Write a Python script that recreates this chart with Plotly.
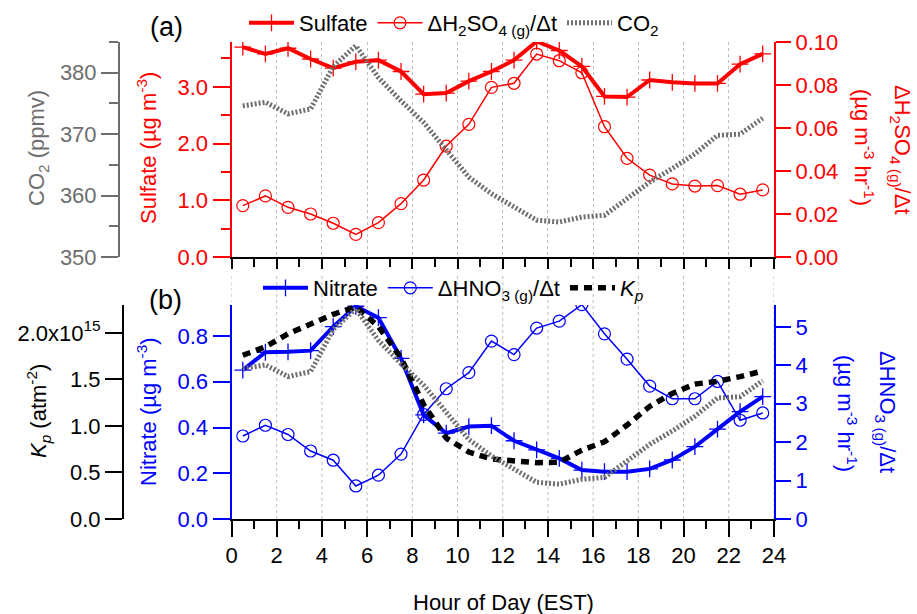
import plotly.graph_objects as go

# ---------------- data ----------------
hours = [0.5, 1.5, 2.5, 3.5, 4.5, 5.5, 6.5, 7.5, 8.5, 9.5, 10.5, 11.5,
         12.5, 13.5, 14.5, 15.5, 16.5, 17.5, 18.5, 19.5, 20.5, 21.5, 22.5, 23.5]

sulfate = [3.70, 3.58, 3.68, 3.49, 3.33, 3.44, 3.47, 3.27, 2.87, 2.89, 3.10, 3.27,
           3.47, 3.80, 3.64, 3.36, 2.83, 2.82, 3.12, 3.08, 3.06, 3.06, 3.40, 3.58]

dh2so4 = [0.0239, 0.0284, 0.0231, 0.0200, 0.0157, 0.0105, 0.0160, 0.0248, 0.0358, 0.0516, 0.0617, 0.0789,
          0.0808, 0.0944, 0.0913, 0.0857, 0.0606, 0.0459, 0.0381, 0.0340, 0.0330, 0.0332, 0.0292, 0.0312]

co2 = [374.6, 375.2, 373.3, 374.1, 381.0, 384.4, 379.2, 375.4, 371.9, 367.6, 363.0, 360.3,
       358.2, 356.0, 355.7, 356.5, 356.8, 359.5, 362.2, 364.4, 366.8, 369.8, 370.0, 372.6]

nitrate = [0.651, 0.729, 0.731, 0.736, 0.841, 0.930, 0.880, 0.702, 0.455, 0.375, 0.404, 0.408,
           0.342, 0.302, 0.265, 0.214, 0.207, 0.207, 0.219, 0.258, 0.316, 0.393, 0.469, 0.535]

dhno3 = [2.16, 2.44, 2.20, 1.77, 1.53, 0.86, 1.14, 1.69, 2.72, 3.39, 3.81, 4.63,
         4.28, 4.97, 5.15, 5.58, 4.82, 4.16, 3.46, 3.13, 3.13, 3.58, 2.57, 2.76]

kp_e15 = [1.76, 1.85, 1.99, 2.10, 2.20, 2.28, 2.07, 1.73, 1.23, 0.87, 0.72, 0.645,
          0.62, 0.605, 0.61, 0.74, 0.83, 1.01, 1.21, 1.35, 1.45, 1.48, 1.53, 1.59]

kp_tickvals = [0.0, 0.5, 1.0, 1.5, 2.0]
kp_ticktext = ["0.0", "0.5", "1.0", "1.5", "2.0x10<sup>15</sup>"]
grid_hours = [0, 2, 4, 6, 8, 10, 12, 14, 16, 18, 20, 22, 24]

# ---------------- layout helpers ----------------
W, H = 917, 614
def px(x):
    return x / W
def py(y):
    return 1 - y / H

FONT = "Liberation Sans, Arial, sans-serif"
RED = "#ff0000"
BLUE = "#0000ff"
GRAY = "#6e6e6e"
FS = 22

fig = go.Figure()

# top panel
fig.add_trace(go.Scatter(x=hours, y=sulfate, xaxis="x", yaxis="y", name="Sulfate",
                         mode="lines+markers", legend="legend",
                         line=dict(color=RED, width=4),
                         marker=dict(symbol="cross-thin", size=12, line=dict(color=RED, width=1.3))))
fig.add_trace(go.Scatter(x=hours, y=dh2so4, xaxis="x", yaxis="y2",
                         name="ΔH<sub>2</sub>SO<sub>4 (g)</sub>/Δt",
                         mode="lines+markers", legend="legend",
                         line=dict(color=RED, width=1.5),
                         marker=dict(symbol="circle-open", size=12, color=RED, line=dict(color=RED, width=1.2))))
fig.add_trace(go.Scatter(x=hours, y=co2, xaxis="x", yaxis="y3", name="CO<sub>2</sub>",
                         mode="lines", legend="legend",
                         line=dict(color=GRAY, width=5, dash="2px,2px")))

# bottom panel
fig.add_trace(go.Scatter(x=hours, y=co2, xaxis="x2", yaxis="y7", name="CO2 (b)",
                         mode="lines", showlegend=False,
                         line=dict(color=GRAY, width=5, dash="2px,2px")))
fig.add_trace(go.Scatter(x=hours, y=kp_e15, xaxis="x2", yaxis="y6", name="<i>K<sub>p</sub></i>",
                         mode="lines", legend="legend2", legendrank=3,
                         line=dict(color="black", width=5.5, dash="8px,6px")))
fig.add_trace(go.Scatter(x=hours, y=nitrate, xaxis="x2", yaxis="y4", name="Nitrate",
                         mode="lines+markers", legend="legend2", legendrank=1,
                         line=dict(color=BLUE, width=4),
                         marker=dict(symbol="cross-thin", size=12, line=dict(color=BLUE, width=1.3))))
fig.add_trace(go.Scatter(x=hours, y=dhno3, xaxis="x2", yaxis="y5",
                         name="ΔHNO<sub>3 (g)</sub>/Δt",
                         mode="lines+markers", legend="legend2", legendrank=2,
                         line=dict(color=BLUE, width=1.5),
                         marker=dict(symbol="circle-open", size=12, color=BLUE, line=dict(color=BLUE, width=1.2))))

XDOM = [px(231.5), px(774)]
TOP = [py(257), py(42)]
BOT = [py(519), py(305)]

def xax(anchor, labels, majlen):
    return dict(domain=XDOM, range=[0, 24], anchor=anchor, showline=True, linecolor="black",
                linewidth=2, ticks="outside", tickmode="linear", tick0=0, dtick=2,
                ticklen=majlen, tickwidth=2, tickcolor="black", showticklabels=labels,
                tickfont=dict(size=FS, color="black"), zeroline=False,
                showgrid=(anchor == "y"), gridcolor="#bdbdbd", gridwidth=1, griddash="dot",
                minor=dict(dtick=1, tick0=0, ticklen=8, tickwidth=2, tickcolor="black",
                           ticks="outside", showgrid=False))

def yax(color, rng, dtick, fmt, ticklen, side="left", minor=None, **kw):
    d = dict(range=rng, side=side, showline=True, linecolor=color, linewidth=2,
             ticks="outside", tickcolor=color, tickwidth=2, ticklen=ticklen,
             tickmode="linear", tick0=0, dtick=dtick, tickformat=fmt,
             tickfont=dict(color=color, size=FS), showgrid=False, zeroline=False)
    if minor is not None:
        d["minor"] = dict(dtick=minor, ticklen=9, tickwidth=2, tickcolor=color, ticks="outside")
    d.update(kw)
    return d

layout = dict(
    width=W, height=H,
    margin=dict(l=0, r=0, t=0, b=0, autoexpand=False),
    paper_bgcolor="white", plot_bgcolor="rgba(0,0,0,0)",
    font=dict(family=FONT, size=FS, color="black"),
    xaxis=xax("y", False, 10),
    xaxis2=xax("y4", True, 16),
    yaxis=yax(RED, [0, 3.79], 1, ".1f", 17, minor=0.5, domain=TOP, anchor="x"),
    yaxis2=yax(RED, [0, 0.1], 0.02, ".2f", 15, side="right", overlaying="y", anchor="x"),
    yaxis3=yax(GRAY, [350, 385], 10, "d", 17, minor=5, overlaying="y", anchor="free",
               position=px(119)),
    yaxis4=yax(BLUE, [0, 0.9355], 0.2, ".1f", 17, domain=BOT, anchor="x2"),
    yaxis5=yax(BLUE, [0, 5.57], 1, "d", 15, side="right", overlaying="y4", anchor="x2"),
    yaxis6=yax("black", [0, 2.3], 0.5, None, 17, overlaying="y4", anchor="free",
               position=px(123)),
    yaxis7=dict(range=[350, 385], overlaying="y4", visible=False),
    legend=dict(orientation="h", x=px(244), y=py(23), xanchor="left", yanchor="middle",
                bgcolor="rgba(0,0,0,0)", font=dict(size=FS), itemwidth=45,
                traceorder="normal"),
    legend2=dict(orientation="h", x=px(258), y=py(288), xanchor="left", yanchor="middle",
                 bgcolor="rgba(0,0,0,0)", font=dict(size=FS), itemwidth=45,
                 traceorder="normal"),
    showlegend=True,
)
layout["yaxis6"].update(tickmode="array", tickvals=kp_tickvals, ticktext=kp_ticktext)
layout["yaxis6"].pop("tickformat", None)
fig.update_layout(**layout)

# bottom-panel dotted grid (extends above the axis tops)
for h in grid_hours:
    fig.add_shape(type="line", xref="x2", yref="paper", x0=h, x1=h, y0=py(519), y1=py(275),
                  line=dict(color="#bdbdbd", width=1, dash="dot"), layer="below")

ann = [
    dict(text="(a)", x=px(166), y=py(27), font=dict(size=27)),
    dict(text="(b)", x=px(165), y=py(300), font=dict(size=27)),
    dict(text="CO<sub>2</sub> (ppmv)", x=px(38), y=py(148), textangle=-90, font=dict(color=GRAY)),
    dict(text="Sulfate (µg m<sup>-3</sup>)", x=px(147), y=py(148), textangle=-90, font=dict(color=RED)),
    dict(text="ΔH<sub>2</sub>SO<sub>4 (g)</sub>/Δt", x=px(901), y=py(150), textangle=90, font=dict(color=RED)),
    dict(text="(µg m<sup>-3</sup> hr<sup>-1</sup>)", x=px(864), y=py(147), textangle=90, font=dict(color=RED)),
    dict(text="<i>K</i><sub><i>p</i></sub> (atm<sup>-2</sup>)", x=px(38), y=py(411), textangle=-90, font=dict(color="black")),
    dict(text="Nitrate (µg m<sup>-3</sup>)", x=px(147), y=py(412), textangle=-90, font=dict(color=BLUE)),
    dict(text="ΔHNO<sub>3 (g)</sub>/Δt", x=px(886), y=py(412), textangle=90, font=dict(color=BLUE)),
    dict(text="(µg m<sup>-3</sup> hr<sup>-1</sup>)", x=px(847), y=py(413), textangle=90, font=dict(color=BLUE)),
    dict(text="Hour of Day (EST)", x=px(503), y=py(602), font=dict(color="black")),
]
for a in ann:
    f = dict(family=FONT, size=FS, color="black")
    f.update(a.pop("font", {}))
    fig.add_annotation(xref="paper", yref="paper", showarrow=False, xanchor="center",
                       yanchor="middle", font=f, **a)

fig.write_html("out.html")
